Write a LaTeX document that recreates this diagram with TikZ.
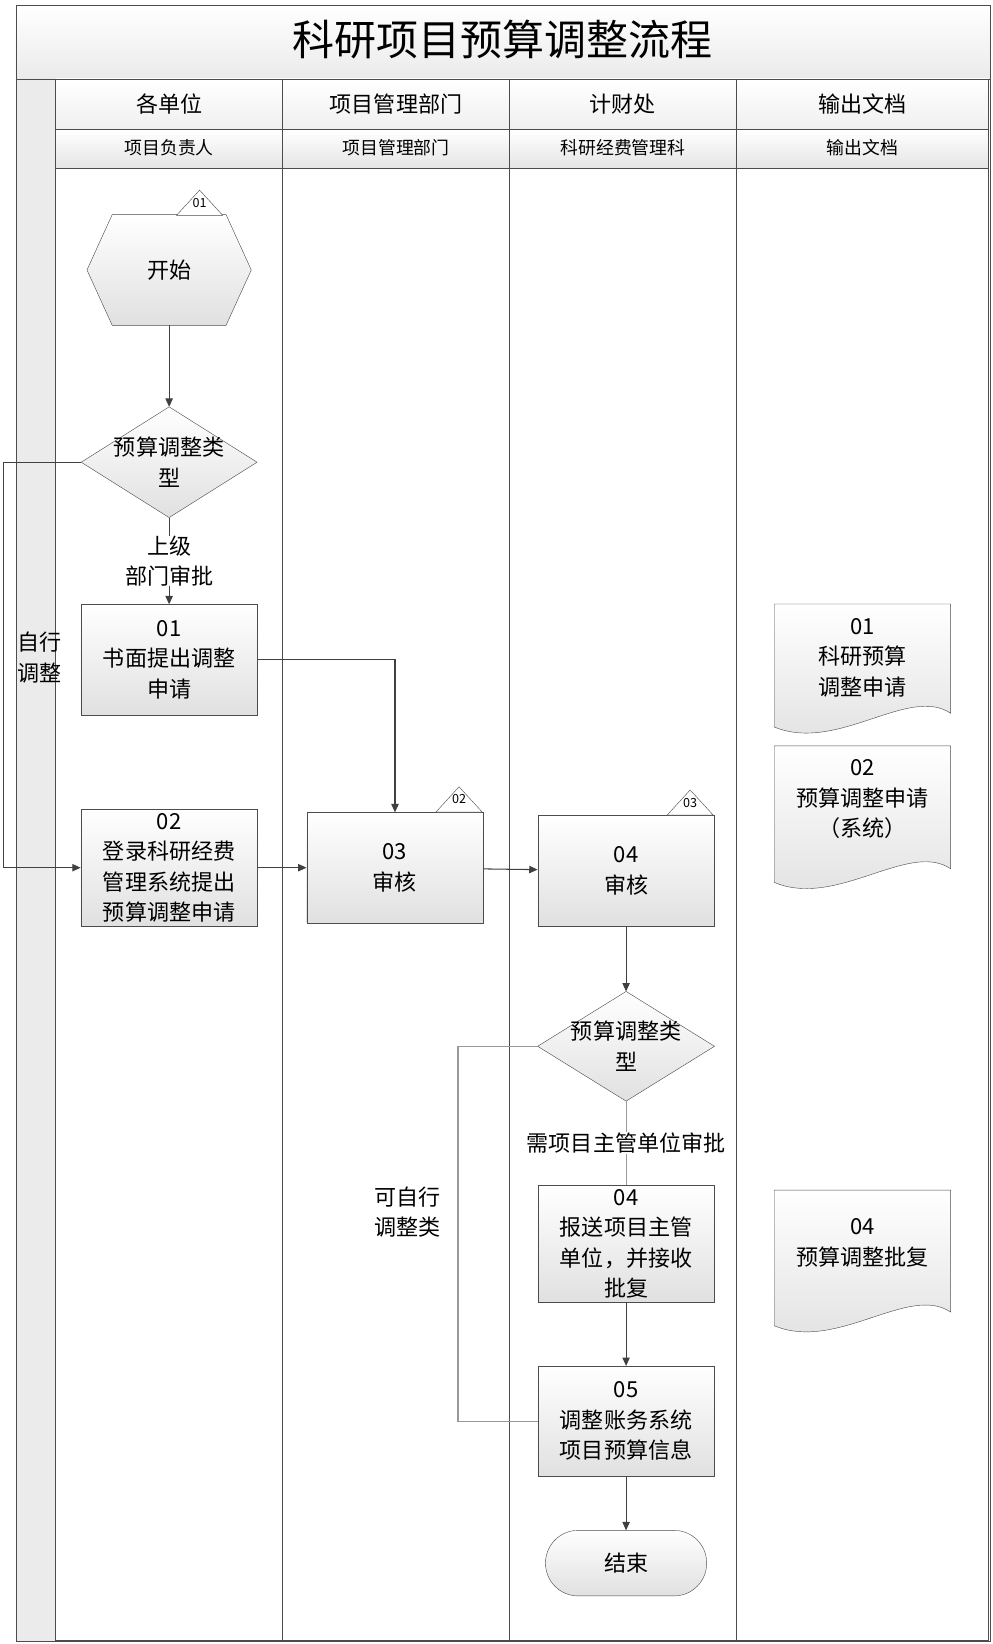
\documentclass[tikz,border=0pt]{standalone}
\usepackage{fontspec}
\setmainfont{Noto Sans CJK SC}
\usetikzlibrary{positioning,arrows.meta}
\tikzset{
	box/.style={draw=black!70,top color=white,bottom color=black!12,minimum width=168pt,minimum height=105pt,align=center,font=\fontsize{21}{29}\selectfont},
	ghost/.style={minimum width=#1,inner sep=0pt,align=center,font=\fontsize{21}{29}\selectfont},
	shade/.style={draw=black!70,top color=white,bottom color=black!12},
	lane/.style={draw=black!70,line width=0.8pt},
	arr/.style={-{Triangle[length=8pt,width=7pt]},draw=black!75,line width=1pt},
	tag/.style={draw=black!70,fill=white,font=\fontsize{11}{12}\selectfont}
}
\newcommand{\tagtri}[2]{% triangle tag at the upper right of a step
	\path[tag] (#1)++(-22,0) -- ++(22,-24) -- ++(22,24) -- cycle;
	\node[font=\fontsize{12}{12}\selectfont] at ($(#1)+(0,-12)$) {#2};}
\newcommand{\docpath}[4]{% document shape: x1 x2 ytop ybottom
	\path[shade] (#1,#3) -- (#2,#3) -- (#2,#4-13) .. controls (#2-40,#4-40) and (#1+60,#4+25) .. (#1,#4) -- cycle;}
\usetikzlibrary{calc}
\begin{document}
\begin{tikzpicture}[x=1pt,y=-1pt,>=latex]
	\useasboundingbox[fill=white] (0,0) rectangle (945,1565);
	% frame, title and lane headers
	\path[shade,top color=white,bottom color=black!8] (15,5) rectangle (943,75);
	\node (title) at (478,38) {\fontsize{40}{44}\selectfont 科研项目预算调整流程};
	\path[draw=black!70,fill=black!8] (15,75) rectangle (53,1562);
	\foreach \xa/\xb/\ha/\hb [count=\i] in {53/269/各单位/项目负责人,269/485/项目管理部门/项目管理部门,485/701/计财处/科研经费管理科,701/941/输出文档/输出文档} {
		\path[shade,top color=white,bottom color=black!6] (\xa,75) rectangle (\xb,123);
		\path[shade,top color=white,bottom color=black!10] (\xa,123) rectangle (\xb,160);
		\node (head\i) at ({(\xa+\xb)/2},99) {\fontsize{21}{24}\selectfont \ha};
		\node (sub\i) at ({(\xa+\xb)/2},141) {\fontsize{17}{20}\selectfont \hb};
		\draw[lane] (\xa,160) rectangle (\xb,1562);
	}
	\draw[draw=black!70] (15,5) rectangle (943,1562);

	% start hexagon
	\node[ghost=156pt,minimum height=105pt] (start) at (161,257) {开始};
	\path[shade] (start.north west)++(24,0) -- ($(start.north east)+(-24,0)$) -- (start.east) -- ($(start.south east)+(-24,0)$) -- ($(start.south west)+(24,0)$) -- (start.west) -- cycle;
	\node[ghost=156pt,minimum height=105pt] at (start) {开始};
	\tagtri{190,205}{01}

	% decision 1
	\node[ghost=167pt,minimum height=105pt] (dec1) at (161,440) {};
	\path[shade] (dec1.north) -- (dec1.east) -- (dec1.south) -- (dec1.west) -- cycle;
	\node[ghost=167pt] at (dec1) {预算调整类\\型};

	\node[box] (s1) at (161,628) {01\\书面提出调整\\申请};
	\node[box] (s2) at (161,826) {02\\登录科研经费\\管理系统提出\\预算调整申请};
	\node[box] (s3) at (376,826) {03\\审核};
	\tagtri{437,773}{02}
	\node[box] (s4) at (596,829) {04\\审核};
	\tagtri{657,776}{03}

	% decision 2
	\node[ghost=168pt,minimum height=104pt] (dec2) at (596,996) {};
	\path[shade] (dec2.north) -- (dec2.east) -- (dec2.south) -- (dec2.west) -- cycle;
	\node[ghost=168pt] at (dec2) {预算调整类\\型};

	\node[box] (s5) at (596,1184) {04\\报送项目主管\\单位，并接收\\批复};
	\node[box] (s6) at (596,1353) {05\\调整账务系统\\项目预算信息};
	\node[ghost=153pt,minimum height=62pt] (stop) at (596,1488) {};
	\path[shade,rounded corners=31pt] (stop.north west) rectangle (stop.south east);
	\node[ghost=153pt] at (stop) {结束};

	% output documents
	\docpath{737}{905}{575}{692}
	\node[ghost=168pt] (doc1) at (821,626) {01\\科研预算\\调整申请};
	\docpath{737}{905}{710}{840}
	\node[ghost=168pt] (doc2) at (821,761) {02\\预算调整申请\\（系统）};
	\docpath{737}{905}{1133}{1262}
	\node[ghost=168pt] (doc4) at (821,1183) {04\\预算调整批复};

	% connectors
	\draw[arr] (start) -- (dec1);
	\draw[arr] (dec1) -- node[fill=white,ghost=100pt,pos=0.5] {上级\\部门审批} (s1);
	\draw[arr] (dec1.west) -| (3,826) -- (s2.west);
	\node[ghost=50pt] (self1) at (38,626) {自行\\调整};
	\draw[arr] (s1.east) -| (s3.north);
	\draw[arr] (s2) -- (s3);
	\draw[arr] (s3) -- (s4);
	\draw[arr] (s4) -- (dec2);
	\draw[black!40,line width=1pt] (dec2.south) -- (s5.north);
	\node[fill=white,inner sep=1pt,font=\fontsize{21}{24}\selectfont] (need) at (596,1088) {需项目主管单位审批};
	\draw[arr] (s5) -- (s6);
	\draw[black!40,line width=1pt] (dec2.west) -| (436,1353) -- (s6.west);
	\node[ghost=80pt] (self2) at (388,1154) {可自行\\调整类};
	\draw[arr] (s6) -- (stop);
\end{tikzpicture}
\end{document}
